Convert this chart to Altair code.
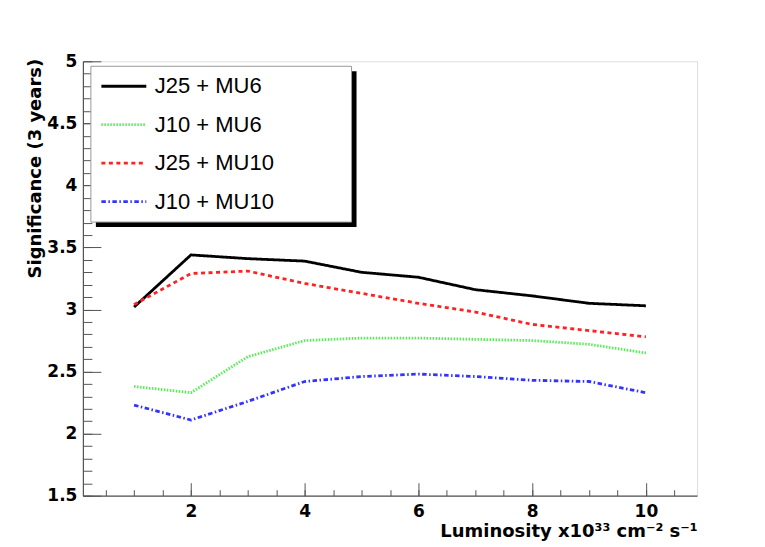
import altair as alt
import pandas as pd

luminosity = [1, 2, 3, 4, 5, 6, 7, 8, 9, 10]
series_names = ["J25 + MU6", "J10 + MU6", "J25 + MU10", "J10 + MU10"]
j25_mu6 = [3.02, 3.44, 3.41, 3.39, 3.30, 3.26, 3.16, 3.11, 3.05, 3.03]
j10_mu6 = [2.38, 2.33, 2.62, 2.75, 2.77, 2.77, 2.76, 2.75, 2.72, 2.65]
j25_mu10 = [3.04, 3.29, 3.31, 3.21, 3.13, 3.05, 2.98, 2.88, 2.83, 2.78]
j10_mu10 = [2.23, 2.11, 2.26, 2.42, 2.46, 2.48, 2.46, 2.43, 2.42, 2.33]

y_major = [1.5, 2, 2.5, 3, 3.5, 4, 4.5, 5]
y_minor = [round(1.5 + 0.1 * i, 2) for i in range(36)]
x_major = [2, 4, 6, 8, 10]
x_minor = [0.5 * i for i in range(1, 22)]

colors = ["#000000", "#55ee55", "#ff2222", "#3333ff"]
dashes = [[1, 0], [1.5, 1.5], [4, 3.5], [4.5, 2.5, 1.5, 2.5]]

rows = []
for name, vals in zip(series_names, [j25_mu6, j10_mu6, j25_mu10, j10_mu10]):
    for x, v in zip(luminosity, vals):
        rows.append({"lum": x, "sig": v, "series": name})
df = pd.DataFrame(rows)

W, H = 615, 435
FONT = "Liberation Sans"
AXFONT = "DejaVu Sans"

xscale = alt.Scale(domain=[0.1, 10.9], nice=False, zero=False)
yscale = alt.Scale(domain=[1.5, 5], nice=False, zero=False)

text_style = dict(labelFont=AXFONT, labelFontSize=17, labelFontWeight="bold", labelColor="#000",
                  titleFont=AXFONT, titleFontSize=18, titleFontWeight="bold", titleColor="#000",
                  domainColor="#555", domainWidth=1.2, grid=False)

legend_style = dict(title=None, orient="none", legendX=17, legendY=1,
                    symbolType="stroke", symbolSize=2025, symbolStrokeWidth=2.8,
                    labelFontSize=22, labelFont=FONT, labelColor="#000",
                    labelOffset=7, rowPadding=3.5, padding=0)

lines = alt.Chart(df).mark_line(strokeWidth=2.8).encode(
    x=alt.X("lum:Q", scale=xscale,
            axis=alt.Axis(orient="bottom", values=x_major, tickSize=0, labelPadding=8,
                          format="d",
                          title="Luminosity x10³³ cm⁻² s⁻¹", titleAnchor="end",
                          titleAlign="right", titleX=W, titleY=41,
                          titleBaseline="alphabetic", **text_style)),
    y=alt.Y("sig:Q", scale=yscale,
            axis=alt.Axis(orient="left", values=y_major, tickSize=0, labelPadding=6,
                          labelExpr="datum.value",
                          title="Significance (3 years)", titleAngle=-90,
                          titleAlign="right", titleX=-38, titleY=-3,
                          titleBaseline="bottom", **text_style)),
    color=alt.Color("series:N", scale=alt.Scale(domain=series_names, range=colors),
                    legend=alt.Legend(**legend_style)),
    strokeDash=alt.StrokeDash("series:N",
                              scale=alt.Scale(domain=series_names, range=dashes),
                              legend=alt.Legend(**legend_style)),
)

def yticks(values, size):
    return alt.Chart(df).mark_point(opacity=0).encode(
        x=alt.X("lum:Q", scale=xscale, axis=None),
        y=alt.Y("sig:Q", scale=yscale,
                axis=alt.Axis(values=values, tickSize=size, offset=-size, labels=False,
                              domain=False, grid=False, title=None, orient="left",
                              tickColor="#555", tickWidth=1)),
    )

def xticks(values, size):
    return alt.Chart(df).mark_point(opacity=0).encode(
        y=alt.Y("sig:Q", scale=yscale, axis=None),
        x=alt.X("lum:Q", scale=xscale,
                axis=alt.Axis(values=values, tickSize=size, offset=-size, labels=False,
                              domain=False, grid=False, title=None, orient="bottom",
                              tickColor="#555", tickWidth=1)),
    )

one = alt.InlineData(values=[{"a": 1}])
shadow = alt.Chart(one).mark_rect(color="#000").encode(
    x=alt.value(13), x2=alt.value(274), y=alt.value(10), y2=alt.value(166))
box = alt.Chart(one).mark_rect(fill="#ffffff", stroke="#999999", strokeWidth=1).encode(
    x=alt.value(8), x2=alt.value(269), y=alt.value(5), y2=alt.value(161))

chart = alt.layer(
    yticks(y_minor, 9), yticks(y_major, 18), xticks(x_minor, 6), xticks(x_major, 13),
    shadow, box, lines
).resolve_axis(x="independent", y="independent").resolve_scale(
    x="shared", y="shared"
).properties(
    width=W, height=H,
    autosize=alt.AutoSizeParams(type="none"),
    padding={"left": 75, "top": 53, "right": 60, "bottom": 50},
).configure_view(
    stroke="#999999", strokeWidth=1.5
).configure(background="#ffffff")

chart.save("out.html", embed_options={"renderer": "svg", "actions": False})
